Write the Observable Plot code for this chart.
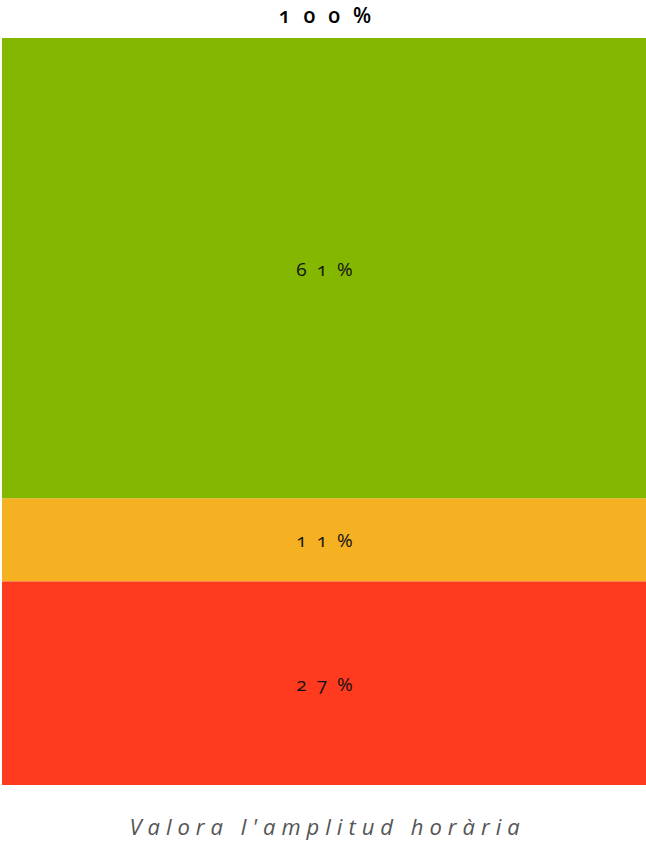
<!DOCTYPE html>
<html>
<head>
<meta charset="utf-8">
<script src="https://cdn.jsdelivr.net/npm/d3@7"></script>
<script src="https://cdn.jsdelivr.net/npm/@observablehq/plot@0.6"></script>
<style>
  html, body { margin: 0; padding: 0; background: #fff; }
  #chart svg { display: block; font-family: "Open Sans", sans-serif; }
</style>
</head>
<body>
<div id="chart"></div>
<script>
// Answers to "Valora l'amplitud horària", stacked from the bottom up
const categories = ["Negativa", "Neutra", "Positiva"];
const percentages = [27, 11, 61];
const colors = ["#ff3b1f", "#f5b122", "#84b800"];
const totalLabel = "100%";
const captionText = "Valora l'amplitud horària";

const rows = categories.map((c, i) => ({group: "all", category: c, value: percentages[i]}));
const total = d3.sum(percentages);

// Wide tracking and old-style figures for each group of labels
function tracked(spacing, figures) {
  return (index, scales, values, dimensions, context, next) => {
    const g = next(index, scales, values, dimensions, context);
    d3.select(g).selectAll("text")
      .style("letter-spacing", `${spacing}px`)
      .style("font-feature-settings", figures ? '"onum"' : null);
    return g;
  };
}

const chart = Plot.plot({
  width: 646,
  height: 847,
  marginTop: 38,
  marginBottom: 62,
  marginLeft: 2,
  marginRight: 0,
  x: {axis: null, padding: 0},
  y: {axis: null, domain: [0, total]},
  color: {domain: categories, range: colors},
  marks: [
    Plot.barY(rows, {x: "group", y: "value", fill: "category", z: "category", order: categories, inset: 0}),
    Plot.text(rows, Plot.stackY({
      x: "group", y: "value", z: "category", order: categories,
      text: d => `${d.value}%`,
      fontSize: 19, fill: "#111", dx: 5, dy: 1,
      render: tracked(10, true)
    })),
    Plot.text([totalLabel], {
      frameAnchor: "top", text: d => d, dy: -30, dx: 7,
      fontSize: 21, fontWeight: 600, fill: "#000",
      render: tracked(13, true)
    }),
    Plot.text([captionText], {
      frameAnchor: "bottom", text: d => d, dy: 49, dx: 3,
      fontSize: 22, fontStyle: "italic", fill: "#555",
      render: tracked(6, false)
    })
  ]
});

document.getElementById("chart").append(chart);
</script>
</body>
</html>
